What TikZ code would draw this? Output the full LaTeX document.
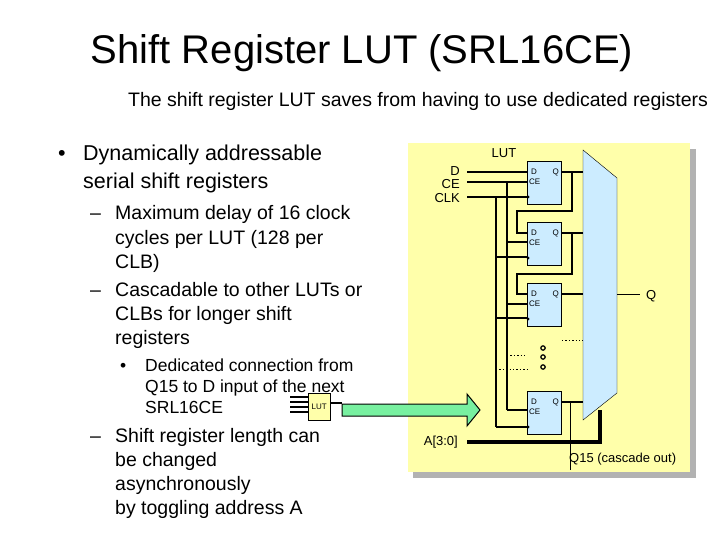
\documentclass[tikz,border=0pt]{standalone}
\usepackage{fontspec}
\setmainfont{Liberation Sans}
\usetikzlibrary{positioning,arrows.meta}
\definecolor{lutyellow}{RGB}{255,255,170}
\definecolor{ffblue}{RGB}{204,236,255}
\definecolor{arrowgreen}{RGB}{120,240,160}
\begin{document}
\begin{tikzpicture}[x=1pt,y=-1pt,>=latex]
        \tikzset{ff/.style={draw, rectangle, fill=ffblue, minimum width=34pt, minimum height=43pt, anchor=north west, inner sep=0pt},
        pin/.style={font=\fontsize{8}{8}\selectfont, inner sep=0pt},
        wire/.style={line width=1.4pt},
        txt/.style={anchor=base west, inner sep=0pt},
        big/.style={txt, font=\fontsize{21.5}{21.5}\selectfont},
        mid/.style={txt, font=\fontsize{19.5}{19.5}\selectfont},
        small/.style={txt, font=\fontsize{17.5}{17.5}\selectfont},
        lbl/.style={font=\fontsize{13}{13}\selectfont, inner sep=0pt},
        }
        \useasboundingbox (0,0) rectangle (720,540);
        \fill[white] (0,0) rectangle (720,540);
%%% texts
        \node[inner sep=0pt, anchor=base, font=\fontsize{40}{40}\selectfont] (title) at (362,64) {Shift Register LUT (SRL16CE)};
        \node[txt, font=\fontsize{19.5}{20}\selectfont] (sub) at (128,107) {The shift register LUT saves from having to use dedicated registers};
        \node[big] (dot1) at (58,161) {\textbullet};
        \foreach \i/\y/\t in {1/161/Dynamically addressable, 2/189/serial shift registers}
            \node[big] (b1\i) at (83,\y) {\t};
        \node[mid] (dash1) at (90,220) {--};
        \node[mid] (dash2) at (90,296) {--};
        \foreach \i/\y/\t in {1/220/Maximum delay of 16 clock, 2/244/cycles per LUT (128 per, 3/268/CLB), 4/296/Cascadable to other LUTs or, 5/320/CLBs for longer shift, 6/344/registers}
            \node[mid] (b2\i) at (115,\y) {\t};
        \node[small] (dot2) at (120,371) {\textbullet};
        \foreach \i/\y/\t in {1/371/Dedicated connection from, 2/392/Q15 to D input of the next, 3/413/SRL16CE}
            \node[small] (b3\i) at (145,\y) {\t};
        \node[mid] (dash3) at (90,442) {--};
        \foreach \i/\y/\t in {1/442/Shift register length can, 2/466/be changed, 3/490/asynchronously, 4/514/by toggling address A}
            \node[mid] (b4\i) at (115,\y) {\t};
%%% small LUT and green arrow
        \foreach \y in {397,402,407,412} \draw[line width=1.2pt] (290,\y) -- (308,\y);
        \node[draw, fill=lutyellow, minimum width=22pt, minimum height=27pt, anchor=north west, inner sep=0pt, font=\fontsize{8}{8}\selectfont] (slut) at (308,393) {LUT};
        \draw[line width=1.2pt] (slut.east |- 0,403) -- (342,403);
%%% LUT box
        \fill[gray!60] (413,149) rectangle (696,478);
        \fill[lutyellow] (408,143) rectangle (690,472);
        \node[lbl] (lut) at (504,153) {LUT};
        \draw[fill=arrowgreen, line width=1pt] (342,404) -- (467,404) -- (467,394) -- (480,410) -- (467,426) -- (467,416) -- (342,416) -- cycle;
%%% flip-flops
        \foreach \n/\t in {1/161,2/222,3/283,4/391}{
            \node[ff] (ff\n) at (527,\t) {};
            \node[pin, anchor=west] (d\n) at (531,\t+11) {D};
            \node[pin, anchor=west] (ce\n) at (529,\t+21) {CE};
            \node[pin, anchor=east] (q\n) at (559,\t+11) {Q};
            \fill (528,\t+36) circle (1.5pt);
        }
%%% mux
        \draw[fill=ffblue] (583,150) coordinate (mtl) -- (617,178) -- (617,393) -- (583,420) coordinate (mbl) -- cycle;
        \coordinate (mout) at (617,294);
        \node[lbl, anchor=west] (qout) at (646,296) {Q};
        \draw (mout) -- (640,294);
%%% inputs
        \node[lbl, anchor=east] (din) at (460,171) {D};
        \node[lbl, anchor=east] (cein) at (460,184) {CE};
        \node[lbl, anchor=east] (clkin) at (460,198) {CLK};
        \node[lbl, anchor=east] (ain) at (458,442) {A[3:0]};
        \draw[wire] (467,172) -- (527,172);
        \draw[wire] (467,182) -- (527,182);
        \draw[wire] (467,197) -- (527,197);
        \draw[wire] (507,182) -- (507,410);
        \draw[wire] (496,197) -- (496,427);
        \foreach \y in {242,304,410} \draw[wire] (507,\y) -- (527,\y);
        \foreach \y in {257,318,427} \draw[wire] (496,\y) -- (527,\y);
        \draw[line width=4pt] (467,442) -- (600,442) -- (600,410);
%%% outputs and chain
        \foreach \y in {172,233,294,402} \draw[wire] (561,\y) -- (583,\y);
        \draw[wire] (572,172) -- (572,211) -- (517,211) -- (517,233) -- (527,233);
        \draw[wire] (572,233) -- (572,274) -- (517,274) -- (517,294) -- (527,294);
        \draw (570,402) -- (570,470);
        \node[lbl, anchor=west] (q15) at (569,459) {Q15 (cascade out)};
%%% dotted lines and dots
        \draw[wire, dotted, line width=1pt] (562,340) -- (583,340);
        \draw[wire, dotted, line width=1pt] (507,355) -- (527,355);
        \draw[wire, dotted, line width=1pt] (496,369) -- (527,369);
        \foreach \y in {348,357,367} \draw[line width=1.2pt] (543,\y) circle (2.2pt);
    \end{tikzpicture}
\end{document}
